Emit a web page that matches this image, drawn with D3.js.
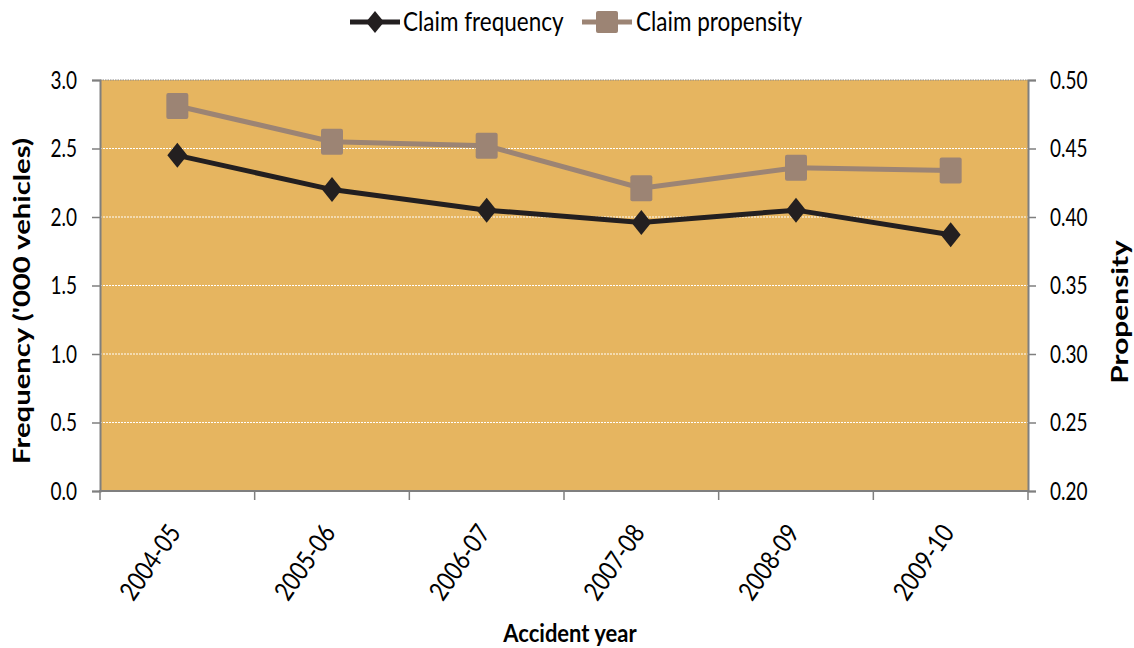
<!DOCTYPE html>
<html>
<head>
<meta charset="utf-8">
<script src="https://cdn.jsdelivr.net/npm/d3@7"></script>
<style>
  html, body { margin: 0; padding: 0; background: #fff; }
  svg text { font-family: Lato, "Open Sans", sans-serif; fill: #000; }
</style>
</head>
<body>
<svg id="chart" width="1134" height="648"></svg>
<script>
// Accident years and the two measured series
const years = ["2004-05", "2005-06", "2006-07", "2007-08", "2008-09", "2009-10"];
const claimFrequency = [2.45, 2.20, 2.05, 1.96, 2.05, 1.87];
const claimPropensity = [0.481, 0.455, 0.452, 0.421, 0.436, 0.434];
const leftTicks = [0, 0.5, 1.0, 1.5, 2.0, 2.5, 3.0];
const rightTicks = [0.20, 0.25, 0.30, 0.35, 0.40, 0.45, 0.50];

const svg = d3.select("#chart");
const plot = { left: 100, right: 1028, top: 80, bottom: 491 };

const x = d3.scaleBand().domain(years).range([plot.left, plot.right]);
const yL = d3.scaleLinear().domain([0, 3]).range([plot.bottom, plot.top]);
const yR = d3.scaleLinear().domain([0.2, 0.5]).range([plot.bottom, plot.top]);

const freqColor = "#231f20";
const propColor = "#9c8474";
const axisColor = "#7f7f7f";

// Text helper: lettering is drawn slightly tall and narrow
function label(parent, tx, ty, str, opts) {
  const o = Object.assign({ size: 20, sx: 1, sy: 1.3, rotate: 0, anchor: "start", weight: "normal" }, opts);
  return parent.append("text")
    .attr("transform", `translate(${tx},${ty}) rotate(${o.rotate}) scale(${o.sx},${o.sy})`)
    .attr("text-anchor", o.anchor)
    .attr("dy", "0.35em")
    .attr("font-size", o.size)
    .attr("font-weight", o.weight)
    .text(str);
}

// Plot background
svg.append("rect")
  .attr("x", plot.left).attr("y", plot.top)
  .attr("width", plot.right - plot.left).attr("height", plot.bottom - plot.top)
  .attr("fill", "#e6b560");

// Horizontal gridlines
svg.append("g").selectAll("line")
  .data(leftTicks.filter(d => d > 0 && d < 3))
  .join("line")
  .attr("x1", plot.left).attr("x2", plot.right)
  .attr("y1", d => yL(d)).attr("y2", d => yL(d))
  .attr("stroke", "#ffffff").attr("stroke-width", 1)
  .attr("stroke-dasharray", "2,1");

// Top border (dotted)
svg.append("line")
  .attr("x1", plot.left).attr("x2", plot.right)
  .attr("y1", plot.top).attr("y2", plot.top)
  .attr("stroke", "#8a8a8a").attr("stroke-width", 1.2)
  .attr("stroke-dasharray", "1.5,1");

// Left axis (line and ticks from d3, labels drawn separately)
const leftAxis = svg.append("g")
  .attr("transform", `translate(${plot.left},0)`)
  .call(d3.axisLeft(yL).tickValues(leftTicks).tickFormat("").tickSize(8));
leftTicks.forEach(t => label(svg, plot.left - 23, yL(t), d3.format(".1f")(t), { size: 19, sy: 1.35, anchor: "end" }));

// Right axis
const rightAxis = svg.append("g")
  .attr("transform", `translate(${plot.right},0)`)
  .call(d3.axisRight(yR).tickValues(rightTicks).tickFormat("").tickSize(8));
rightTicks.forEach(t => label(svg, plot.right + 22, yR(t), d3.format(".2f")(t), { size: 19, sy: 1.35 }));

[leftAxis, rightAxis].forEach(g => {
  g.select(".domain").attr("stroke", axisColor).attr("stroke-width", 2);
  g.selectAll(".tick line").attr("stroke", axisColor).attr("stroke-width", 1.5);
});

// Bottom axis with ticks at category boundaries
const bottomAxis = svg.append("g")
  .attr("transform", `translate(0,${plot.bottom})`);
bottomAxis.append("line")
  .attr("x1", plot.left - 1).attr("x2", plot.right + 1)
  .attr("stroke", axisColor).attr("stroke-width", 2);
const bounds = years.map(d => x(d)).concat([x(years[years.length - 1]) + x.bandwidth()]);
bottomAxis.selectAll("line.tick")
  .data(bounds)
  .join("line")
  .attr("class", "tick")
  .attr("x1", d => d).attr("x2", d => d)
  .attr("y1", 0).attr("y2", 9)
  .attr("stroke", axisColor).attr("stroke-width", 1.5);

const cx = d => x(d) + x.bandwidth() / 2;

// Rotated category labels
years.forEach(d => label(svg, cx(d) - 3, 527.5, d, { size: 22, sy: 1.2, rotate: -55, anchor: "end" }));

// Claim propensity line (right axis)
svg.append("path")
  .datum(claimPropensity)
  .attr("fill", "none").attr("stroke", propColor).attr("stroke-width", 5)
  .attr("d", d3.line().x((d, i) => cx(years[i])).y(d => yR(d)));
svg.append("g").selectAll("rect")
  .data(claimPropensity)
  .join("rect")
  .attr("x", (d, i) => cx(years[i]) - 11).attr("y", d => yR(d) - 13)
  .attr("width", 22).attr("height", 26).attr("rx", 2)
  .attr("fill", propColor);

// Claim frequency line (left axis)
const diamondPath = (w, h) => `M0,${-h}L${w},0L0,${h}L${-w},0Z`;
svg.append("path")
  .datum(claimFrequency)
  .attr("fill", "none").attr("stroke", freqColor).attr("stroke-width", 5)
  .attr("d", d3.line().x((d, i) => cx(years[i])).y(d => yL(d)));
svg.append("g").selectAll("path")
  .data(claimFrequency)
  .join("path")
  .attr("transform", (d, i) => `translate(${cx(years[i])},${yL(d)})`)
  .attr("d", diamondPath(10, 12.5))
  .attr("fill", freqColor);

// Axis titles
label(svg, 570, 633, "Accident year", { size: 22, sy: 1.15, anchor: "middle", weight: "bold" });
label(svg, 22, 301, "Frequency ('000 vehicles)", { size: 22, sx: 1.33, sy: 1, rotate: -90, anchor: "middle", weight: "bold" });
label(svg, 1120, 312, "Propensity", { size: 22, sx: 1.36, sy: 1, rotate: -90, anchor: "middle", weight: "bold" });

// Legend
const legend = svg.append("g");
const lf = legend.append("g").attr("transform", "translate(350,22)");
lf.append("line").attr("x1", 0).attr("x2", 50).attr("stroke", freqColor).attr("stroke-width", 5);
lf.append("path").attr("transform", "translate(25,0)").attr("d", diamondPath(9, 11)).attr("fill", freqColor);
label(lf, 53, 0, "Claim frequency", { size: 22.5, sy: 1.18 });

const lp = legend.append("g").attr("transform", "translate(582,22)");
lp.append("line").attr("x1", 0).attr("x2", 50).attr("stroke", propColor).attr("stroke-width", 5);
lp.append("rect").attr("x", 14).attr("y", -11).attr("width", 22).attr("height", 22).attr("rx", 2).attr("fill", propColor);
label(lp, 54, 0, "Claim propensity", { size: 22.5, sy: 1.18 });
</script>
</body>
</html>
